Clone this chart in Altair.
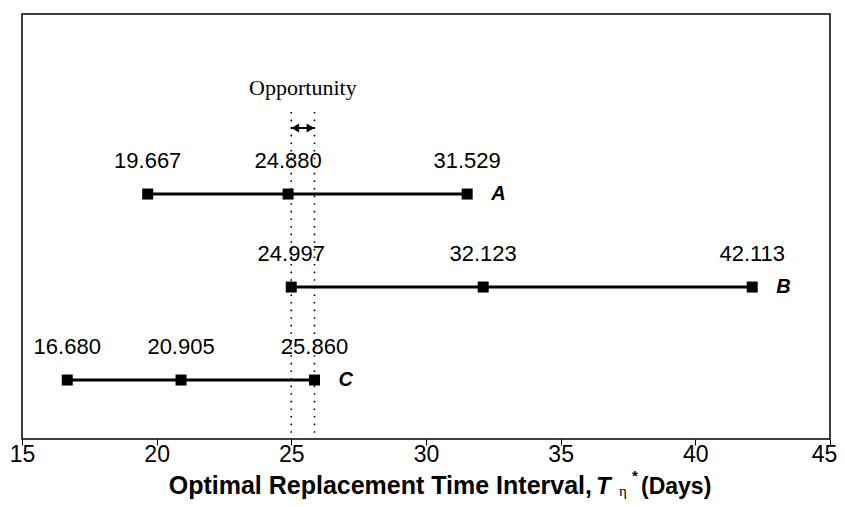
import altair as alt
import pandas as pd

# ---- data ----
series = ["A", "B", "C"]
lows = [19.667, 24.997, 16.680]
mids = [24.880, 32.123, 20.905]
highs = [31.529, 42.113, 25.860]
rows = [3, 2, 1]
opportunity = [24.997, 25.860]
opportunity_label = "Opportunity"
x_ticks = [15, 20, 25, 30, 35, 40, 45]
title_main = "Optimal Replacement Time Interval,"
title_var = "T"
title_sub = "η"
title_sup = "*"
title_unit = "(Days)"

SANS = "Liberation Sans"
SERIF = "Liberation Serif"

seg_df = pd.DataFrame({"series": series, "low": lows, "high": highs, "row": rows})
pts = []
for s, lo, md, hi, r in zip(series, lows, mids, highs, rows):
    for v in (lo, md, hi):
        pts.append({"series": s, "value": v, "row": r})
pts_df = pd.DataFrame(pts)
opp_df = pd.DataFrame({"x": opportunity})
arrow_df = pd.DataFrame({"x": [opportunity[0]], "x2": [opportunity[1]]})
opp_label_df = pd.DataFrame({"x": [sum(opportunity) / 2], "t": [opportunity_label]})

xscale = alt.Scale(domain=[15, 45], nice=False, zero=False)
yscale = alt.Scale(domain=[0.366, 4.936], nice=False, zero=False)

xaxis = alt.Axis(values=x_ticks, title=None, grid=False, domain=False,
                 tickColor="black", tickSize=6, tickWidth=1,
                 labelFont=SANS, labelFontSize=23, labelColor="black",
                 labelPadding=-2, format="d", labelFlush=False, labelOverlap=False,
                 labelOffset={"condition": {"test": "datum.value == 45", "value": -6}, "value": 0})

base = alt.Chart(seg_df)

lines = base.mark_rule(color="black", strokeWidth=3).encode(
    x=alt.X("low:Q", scale=xscale, axis=xaxis),
    x2="high:Q",
    y=alt.Y("row:Q", scale=yscale, axis=None),
)

squares = alt.Chart(pts_df).mark_square(color="black", size=121, opacity=1).encode(
    x=alt.X("value:Q", scale=xscale),
    y=alt.Y("row:Q", scale=yscale),
)

value_labels = alt.Chart(pts_df).mark_text(
    font=SANS, fontSize=22, color="black", dy=-33, baseline="middle"
).encode(
    x=alt.X("value:Q", scale=xscale),
    y=alt.Y("row:Q", scale=yscale),
    text=alt.Text("value:Q", format=".3f"),
)

names = base.mark_text(
    font=SANS, fontSize=20, fontWeight="bold", fontStyle="italic",
    color="black", align="left", baseline="middle", dx=24
).encode(
    x=alt.X("high:Q", scale=xscale),
    y=alt.Y("row:Q", scale=yscale),
    text="series:N",
)

dotted = alt.Chart(opp_df).mark_rule(color="black", strokeWidth=1.6, strokeDash=[1.6, 6]).encode(
    x=alt.X("x:Q", scale=xscale),
    y=alt.value(98),
    y2=alt.value(425),
)

arrow_shaft = alt.Chart(arrow_df).mark_rule(color="black", strokeWidth=2).encode(
    x=alt.X("x:Q", scale=xscale),
    x2="x2:Q",
    y=alt.value(114),
)
arrow_left = alt.Chart(arrow_df).mark_point(
    shape="triangle-left", filled=True, color="black", size=80, opacity=1, xOffset=4
).encode(x=alt.X("x:Q", scale=xscale), y=alt.value(114))
arrow_right = alt.Chart(arrow_df).mark_point(
    shape="triangle-right", filled=True, color="black", size=80, opacity=1, xOffset=-4
).encode(x=alt.X("x2:Q", scale=xscale), y=alt.value(114))

opp_text = alt.Chart(opp_label_df).mark_text(
    font=SERIF, fontSize=22, color="black", baseline="middle"
).encode(x=alt.X("x:Q", scale=xscale), y=alt.value(74), text="t:N")

one = pd.DataFrame({"k": [0]})
TY = 480
t1 = alt.Chart(one).mark_text(font=SANS, fontSize=25, fontWeight="bold", color="black",
                              align="right", baseline="alphabetic", text=title_main).encode(
    x=alt.value(570), y=alt.value(TY))
t2 = alt.Chart(one).mark_text(font=SANS, fontSize=24, fontWeight="bold", fontStyle="italic", color="black",
                              align="left", baseline="alphabetic", text=title_var).encode(
    x=alt.value(574), y=alt.value(TY))
t3 = alt.Chart(one).mark_text(font=SERIF, fontSize=15, color="black",
                              align="left", baseline="alphabetic", text=title_sub).encode(
    x=alt.value(597), y=alt.value(TY + 2))
t4 = alt.Chart(one).mark_text(font=SANS, fontSize=15, fontWeight="bold", color="black",
                              align="left", baseline="alphabetic", text=title_sup).encode(
    x=alt.value(610), y=alt.value(TY - 13))
t5 = alt.Chart(one).mark_text(font=SANS, fontSize=23, fontWeight="bold", color="black",
                              align="left", baseline="alphabetic", text=title_unit).encode(
    x=alt.value(619), y=alt.value(TY))

chart = alt.layer(
    dotted, lines, squares, value_labels, names, arrow_shaft, arrow_left, arrow_right,
    opp_text, t1, t2, t3, t4, t5
).properties(
    width=808, height=425,
    autosize=alt.AutoSizeParams(type="none"),
    padding={"left": 14, "top": 6, "right": 7, "bottom": 60},
    background="white",
).configure_view(stroke="black", strokeWidth=1.5)

chart.save("out.html", embed_options={"renderer": "svg", "actions": False})
